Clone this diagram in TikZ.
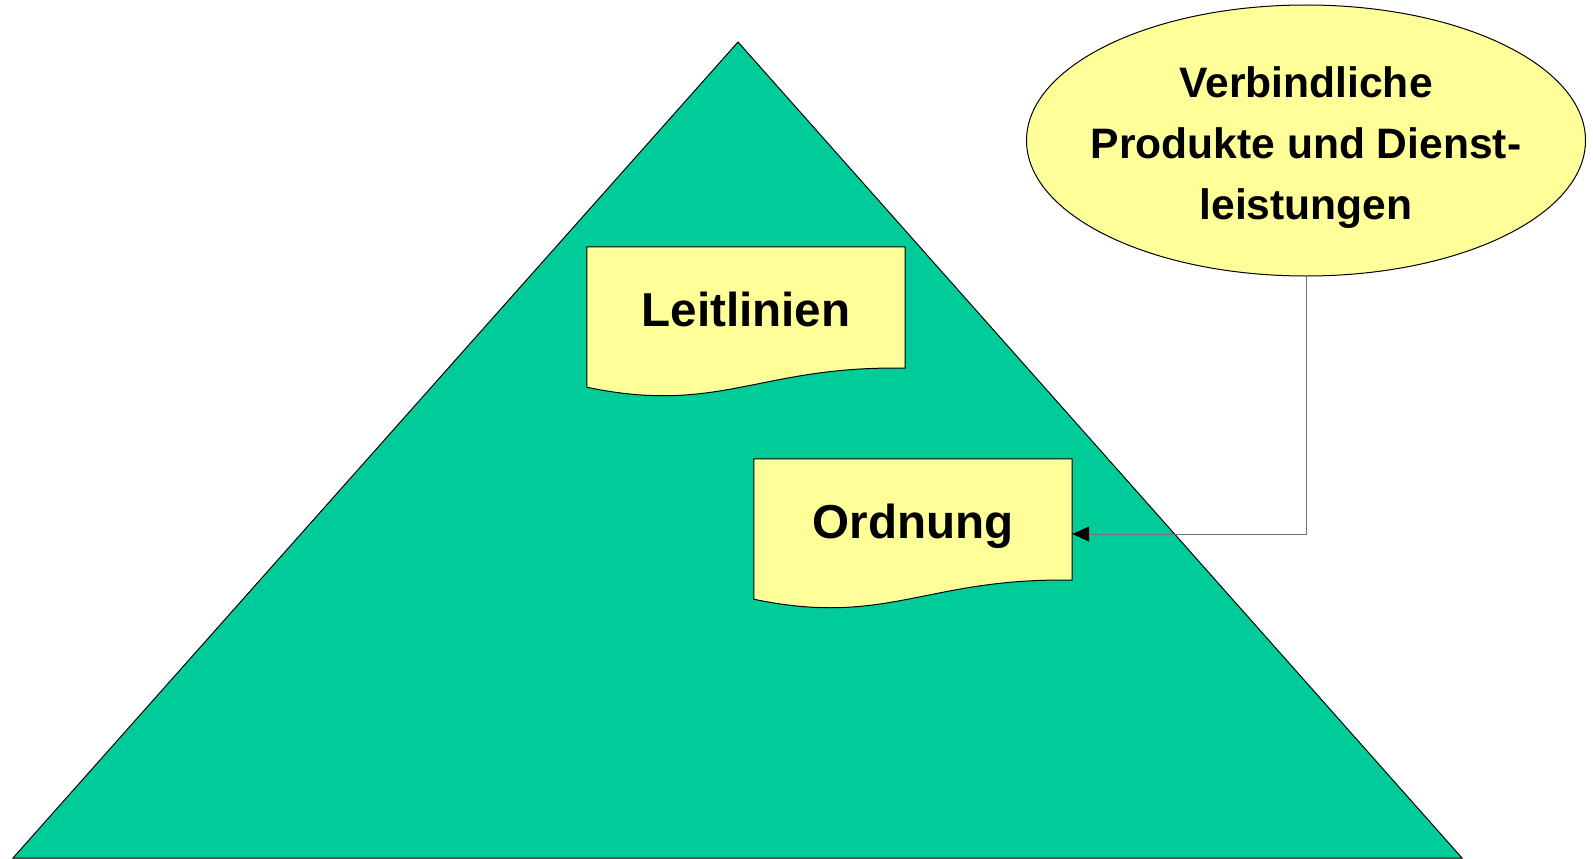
\documentclass[tikz,border=0pt]{standalone}
\usepackage{fontspec}
\setmainfont{Liberation Sans}
\usetikzlibrary{arrows.meta,shapes.geometric,backgrounds}
\definecolor{pyramidgreen}{HTML}{00CC99}
\definecolor{noteyellow}{HTML}{FFFF99}

\newcommand{\docsheet}[1]{%
	\begin{pgfonlayer}{background}
		\filldraw[sheet_style] (#1.north west) -- (#1.north east) -- (#1.south east)
			.. controls +(-145pt,3pt) and +(133pt,-28pt) .. ([yshift=-19pt]#1.south west) -- cycle;
	\end{pgfonlayer}}

\begin{document}
\begin{tikzpicture}[x=1pt,y=-1pt,
		doc_style/.style={rectangle,minimum width=318pt,minimum height=121pt,inner sep=0pt,text height=38pt,text depth=0pt,font=\fontsize{47.6}{57}\selectfont\bfseries},
		ellipse_style/.style={ellipse,draw=black,line width=1pt,fill=noteyellow,minimum width=559pt,minimum height=271pt,inner xsep=-20pt,inner ysep=0pt,align=center,font=\fontsize{42.6}{61}\selectfont\bfseries},
		sheet_style/.style={draw=black,fill=noteyellow,line width=1pt},
		edge_style/.style={draw=black!55,line width=1pt,-{Triangle[black,length=17pt,width=15pt]}}]

		\useasboundingbox (0,0) rectangle (1593,859);

		\begin{pgfonlayer}{background}
			\filldraw[fill=pyramidgreen,draw=black,line width=1pt] (13,858) -- (738,42) -- (1462,858) -- cycle;
		\end{pgfonlayer}

		\node[doc_style] (leit) at (746,307.5) {Leitlinien};
		\node[doc_style] (ord) at (913,519.5) {Ordnung};
		\node[ellipse_style] (prod) at (1306,140.5) {\rule{0pt}{45pt}Verbindliche\\Produkte und Dienst-\\leistungen};

		\docsheet{leit}
		\docsheet{ord}

		\draw[edge_style] (prod.south) |- ([yshift=-14.5pt]ord.east);

\end{tikzpicture}
\end{document}
